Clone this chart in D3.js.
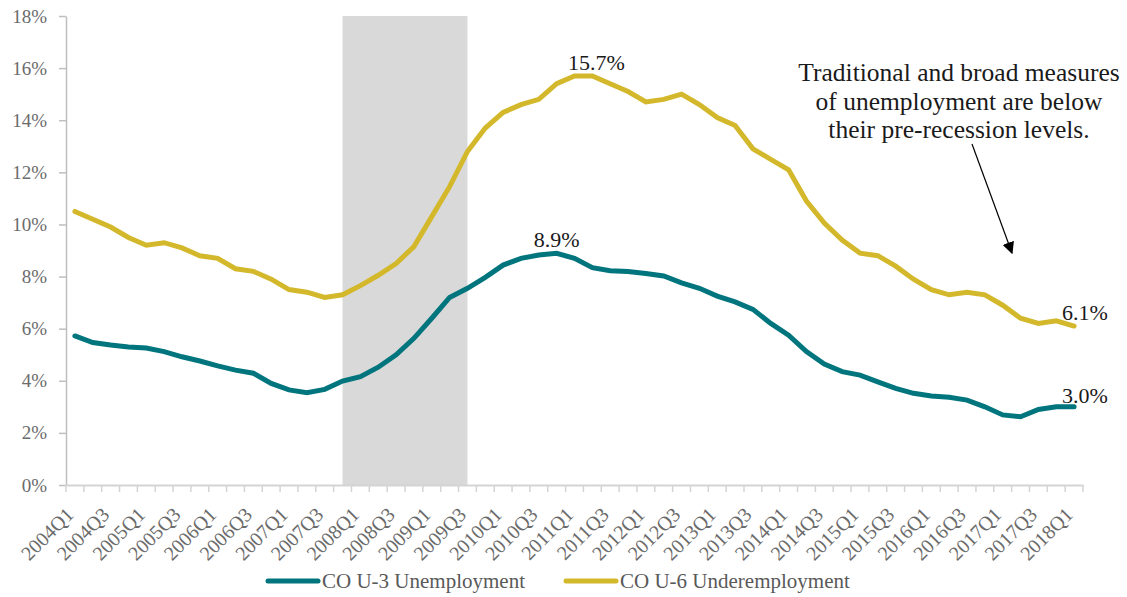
<!DOCTYPE html>
<html>
<head>
<meta charset="utf-8">
<script src="https://cdn.jsdelivr.net/npm/d3@7"></script>
<style>
  body { margin: 0; background: #fff; }
  text { font-family: "Liberation Serif", "Times New Roman", serif; }
</style>
</head>
<body>
<div id="chart"></div>
<script>
// quarterly categories
const quarters = ["2004Q1","2004Q2","2004Q3","2004Q4","2005Q1","2005Q2","2005Q3","2005Q4",
  "2006Q1","2006Q2","2006Q3","2006Q4","2007Q1","2007Q2","2007Q3","2007Q4",
  "2008Q1","2008Q2","2008Q3","2008Q4","2009Q1","2009Q2","2009Q3","2009Q4",
  "2010Q1","2010Q2","2010Q3","2010Q4","2011Q1","2011Q2","2011Q3","2011Q4",
  "2012Q1","2012Q2","2012Q3","2012Q4","2013Q1","2013Q2","2013Q3","2013Q4",
  "2014Q1","2014Q2","2014Q3","2014Q4","2015Q1","2015Q2","2015Q3","2015Q4",
  "2016Q1","2016Q2","2016Q3","2016Q4","2017Q1","2017Q2","2017Q3","2017Q4","2018Q1"];

// CO U-3 unemployment rate (%)
const u3 = [5.72,5.47,5.37,5.3,5.26,5.12,4.92,4.76,4.57,4.41,4.29,3.9,3.65,3.54,3.67,3.99,
  4.16,4.52,5.0,5.63,6.4,7.2,7.55,7.97,8.44,8.7,8.83,8.89,8.7,8.34,8.22,8.19,
  8.12,8.02,7.76,7.55,7.25,7.03,6.74,6.2,5.75,5.12,4.64,4.35,4.22,3.96,3.71,3.52,
  3.42,3.37,3.26,3.0,2.69,2.62,2.9,3.0,3.0];

// CO U-6 underemployment rate (%)
const u6 = [10.5,10.2,9.9,9.5,9.2,9.3,9.1,8.8,8.7,8.3,8.2,7.9,7.5,7.4,7.2,7.3,
  7.65,8.05,8.5,9.15,10.3,11.45,12.8,13.7,14.3,14.6,14.8,15.4,15.7,15.7,15.4,15.1,
  14.7,14.8,15.0,14.6,14.1,13.8,12.9,12.5,12.1,10.9,10.05,9.4,8.9,8.8,8.4,7.9,
  7.5,7.3,7.4,7.3,6.9,6.4,6.2,6.3,6.1];

const xLabels = quarters.filter((q, i) => i % 2 === 0);
const yTicks = [0, 2, 4, 6, 8, 10, 12, 14, 16, 18];
const recession = ["2007Q4", "2009Q3"];

const teal = "#00757d", gold = "#d4b82b";

const svg = d3.select("#chart")
  .append("svg")
  .attr("width", 1127)
  .attr("height", 597);

const x = d3.scaleBand()
  .domain(quarters)
  .range([66, 1083]);
const cx = q => x(q) + x.bandwidth() / 2;

const y = d3.scaleLinear()
  .domain([0, 18])
  .range([485, 16]);

// recession shading
svg.append("rect")
  .attr("x", cx(recession[0]))
  .attr("width", cx(recession[1]) - cx(recession[0]))
  .attr("y", y(18))
  .attr("height", y(0) - y(18))
  .attr("fill", "#d9d9d9");

// Y axis
const yAxis = svg.append("g")
  .attr("transform", "translate(66,0)")
  .call(d3.axisLeft(y).tickValues(yTicks).tickFormat(d => d + "%").tickSize(7).tickSizeOuter(0).tickPadding(12));
yAxis.select(".domain").attr("stroke", "#bfbfbf").attr("stroke-width", 1.5);
yAxis.selectAll(".tick line").attr("stroke", "#bfbfbf").attr("stroke-width", 1.5);
yAxis.selectAll("text")
  .attr("fill", "#6b6b6b")
  .style("font-size", "19px")
  .style("font-family", "Liberation Serif, serif");

// X axis
const xAxis = svg.append("g")
  .attr("transform", "translate(0,485)")
  .call(d3.axisBottom(x).tickValues(xLabels).tickSize(0).tickSizeOuter(0));
xAxis.select(".domain").attr("stroke", "#d4d4d4").attr("stroke-width", 2);
xAxis.selectAll("text")
  .attr("y", 0)
  .attr("dy", "0.35em")
  .attr("transform", "translate(-5,26) rotate(-45)")
  .style("text-anchor", "end")
  .attr("fill", "#6b6b6b")
  .style("font-size", "20px")
  .style("font-family", "Liberation Serif, serif");

// boundary ticks between quarters
xAxis.selectAll("line.boundary")
  .data(quarters.map(q => x(q)).concat([x.range()[1]]))
  .join("line")
    .attr("class", "boundary")
    .attr("x1", d => d)
    .attr("x2", d => d)
    .attr("y1", 0)
    .attr("y2", 7)
    .attr("stroke", "#d4d4d4")
    .attr("stroke-width", 1.5);

// lines
const line = d3.line()
  .x((d, i) => cx(quarters[i]))
  .y(d => y(d));

svg.append("path")
  .datum(u6)
  .attr("d", line)
  .attr("fill", "none")
  .attr("stroke", gold)
  .attr("stroke-width", 5)
  .attr("stroke-linecap", "round");

svg.append("path")
  .datum(u3)
  .attr("d", line)
  .attr("fill", "none")
  .attr("stroke", teal)
  .attr("stroke-width", 5)
  .attr("stroke-linecap", "round");

// data labels
const last = quarters.length - 1;
const dataLabels = [
  {text: "15.7%", q: quarters[29], v: u6[29], anchor: "middle", dx: 4, dy: -6},
  {text: "8.9%", q: quarters[27], v: u3[27], anchor: "middle", dx: 0, dy: -6},
  {text: "6.1%", q: quarters[last], v: u6[last], anchor: "start", dx: -12, dy: -6},
  {text: "3.0%", q: quarters[last], v: u3[last], anchor: "start", dx: -12, dy: -4}
];
svg.selectAll("text.dlabel")
  .data(dataLabels)
  .join("text")
    .attr("class", "dlabel")
    .attr("x", d => cx(d.q) + d.dx)
    .attr("y", d => y(d.v) + d.dy)
    .attr("text-anchor", d => d.anchor)
    .attr("fill", "#1a1a1a")
    .style("font-size", "22px")
    .text(d => d.text);

// annotation
const note = ["Traditional and broad measures", "of unemployment are below", "their pre-recession levels."];
svg.selectAll("text.note")
  .data(note)
  .join("text")
    .attr("class", "note")
    .attr("x", 959)
    .attr("y", (d, i) => 81 + i * 28.5)
    .attr("text-anchor", "middle")
    .attr("fill", "#1a1a1a")
    .style("font-size", "25.5px")
    .text(d => d);

svg.append("defs").append("marker")
  .attr("id", "arrow")
  .attr("viewBox", "0 0 10 10")
  .attr("refX", 9)
  .attr("refY", 5)
  .attr("markerWidth", 12)
  .attr("markerHeight", 12)
  .attr("markerUnits", "userSpaceOnUse")
  .attr("orient", "auto")
  .append("path")
    .attr("d", "M0,0 L10,5 L0,10 z")
    .attr("fill", "#000");

svg.append("line")
  .attr("x1", 972).attr("y1", 144)
  .attr("x2", 1012).attr("y2", 253)
  .attr("stroke", "#000")
  .attr("stroke-width", 1.2)
  .attr("marker-end", "url(#arrow)");

// legend
const legend = [
  {name: "CO U-3 Unemployment", color: teal, x: 268},
  {name: "CO U-6 Underemployment", color: gold, x: 566}
];
const lg = svg.selectAll("g.legend")
  .data(legend)
  .join("g")
    .attr("class", "legend")
    .attr("transform", d => `translate(${d.x},581)`);
lg.append("line")
  .attr("x1", 0).attr("x2", 50)
  .attr("stroke", d => d.color)
  .attr("stroke-width", 5)
  .attr("stroke-linecap", "round");
lg.append("text")
  .attr("x", 54)
  .attr("y", 7)
  .attr("fill", "#595959")
  .style("font-size", "21px")
  .text(d => d.name);
</script>
</body>
</html>
